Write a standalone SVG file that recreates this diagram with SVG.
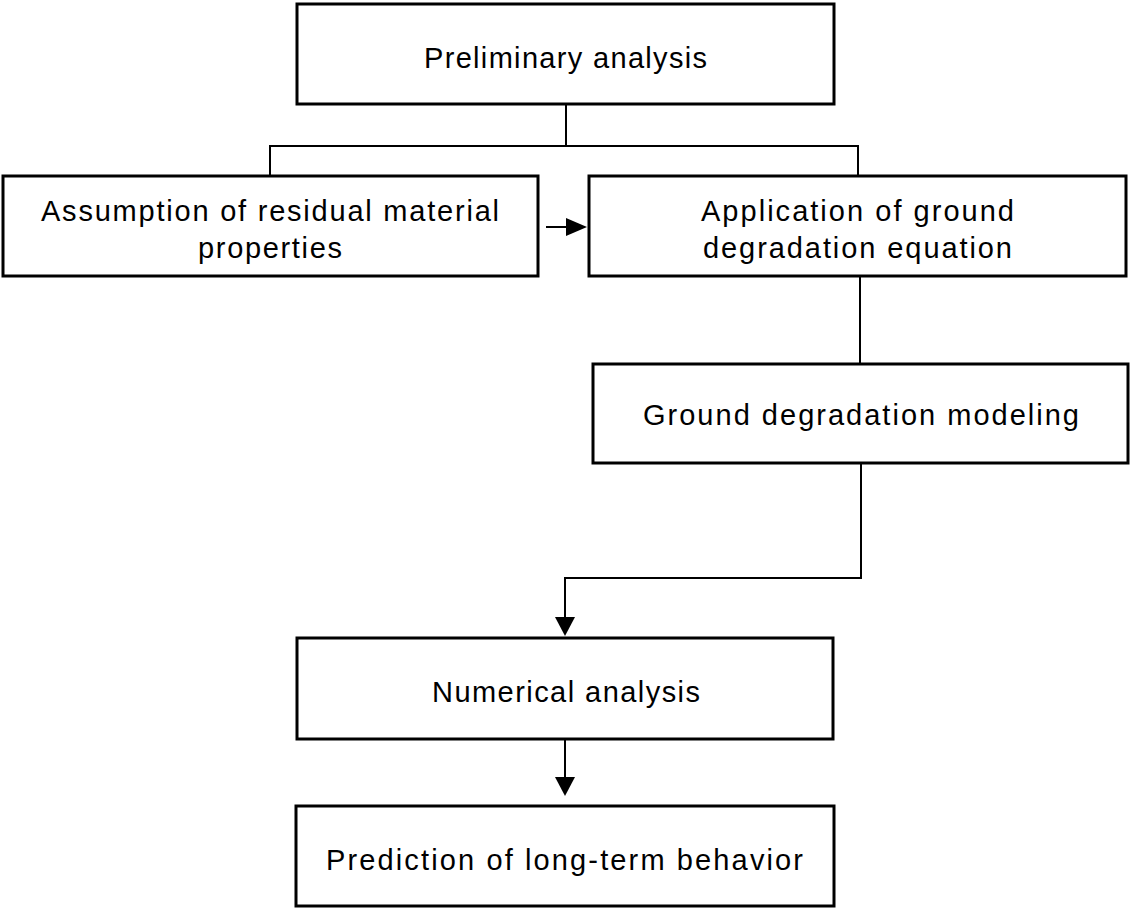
<svg xmlns="http://www.w3.org/2000/svg" width="1132" height="910" viewBox="0 0 1132 910">
<style>
.box{fill:#fff;stroke:#000;stroke-width:3}
.t{font-family:"Liberation Sans",Arial,sans-serif;font-size:29px;fill:#000;text-anchor:middle}
.c{fill:none;stroke:#000;stroke-width:2}
</style>
<defs>
<marker id="ah" markerWidth="10" markerHeight="10" refX="10" refY="5" orient="auto" markerUnits="userSpaceOnUse" viewBox="0 0 10 10">
<path d="M0,0 L10,5 L0,10 Z" fill="#000"/>
</marker>
</defs>
<rect width="1132" height="910" fill="#fff"/>
<g id="connectors">
<polyline class="c" points="566,104 566,146"/>
<polyline class="c" points="270,176 270,146 858,146 858,176"/>
<line class="c" x1="546" y1="227" x2="566" y2="227"/>
<path d="M566,218 L587,227 L566,236 Z" fill="#000"/>
<line class="c" x1="860" y1="277" x2="860" y2="364"/>
<polyline class="c" points="861,463 861,578 565,578 565,618"/>
<path d="M555,617 L575,617 L565,636 Z" fill="#000"/>
<line class="c" x1="565" y1="740" x2="565" y2="778"/>
<path d="M555,777 L575,777 L565,796 Z" fill="#000"/>
</g>
<g id="n1"><rect class="box" x="297" y="4" width="537" height="100"/><text class="t" x="565.5" y="68" textLength="283" lengthAdjust="spacing">Preliminary analysis</text></g>
<g id="n2"><rect class="box" x="3" y="176" width="535" height="100"/><text class="t" x="270" y="221" textLength="458" lengthAdjust="spacing">Assumption of residual material</text><text class="t" x="270" y="258" textLength="144" lengthAdjust="spacing">properties</text></g>
<g id="n3"><rect class="box" x="589" y="176" width="537" height="100"/><text class="t" x="857.5" y="221" textLength="313" lengthAdjust="spacing">Application of ground</text><text class="t" x="857.5" y="258" textLength="309" lengthAdjust="spacing">degradation equation</text></g>
<g id="n4"><rect class="box" x="593" y="364" width="535" height="99"/><text class="t" x="861" y="425" textLength="436" lengthAdjust="spacing">Ground degradation modeling</text></g>
<g id="n5"><rect class="box" x="297" y="638" width="536" height="101"/><text class="t" x="566" y="702" textLength="268" lengthAdjust="spacing">Numerical analysis</text></g>
<g id="n6"><rect class="box" x="296" y="806" width="538" height="100"/><text class="t" x="564.5" y="870" textLength="477" lengthAdjust="spacing">Prediction of long-term behavior</text></g>
</svg>
